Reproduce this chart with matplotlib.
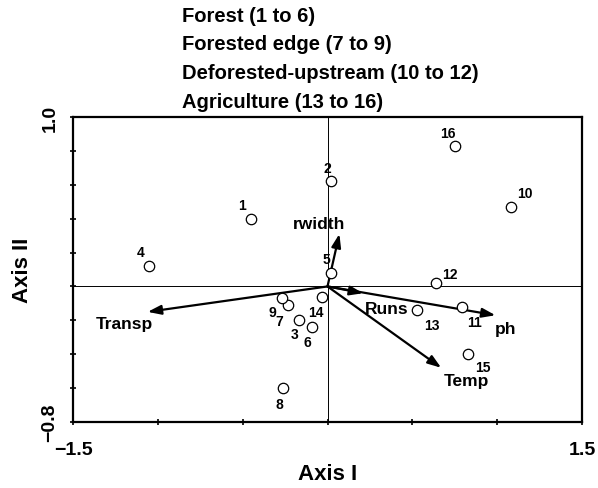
import numpy as np
import matplotlib
matplotlib.use("Agg")
import matplotlib.pyplot as plt

# site scores (Axis I, Axis II)
site_ids = ["1", "2", "3", "4", "5", "6", "7", "8", "9", "10", "11", "12", "13", "14", "15", "16"]
site_x = [-0.45, 0.02, -0.17, -1.05, 0.02, -0.09, -0.23, -0.26, -0.27, 1.08, 0.79, 0.64, 0.53, -0.03, 0.83, 0.75]
site_y = [0.40, 0.62, -0.20, 0.12, 0.08, -0.24, -0.11, -0.60, -0.07, 0.47, -0.12, 0.02, -0.14, -0.06, -0.40, 0.83]

# environmental variable vectors
env_names = ["Transp", "rwidth", "Runs", "ph", "Temp"]
env_x = [-1.06, 0.07, 0.21, 0.99, 0.67]
env_y = [-0.15, 0.31, -0.04, -0.17, -0.48]

group_labels = ["Forest (1 to 6)", "Forested edge (7 to 9)",
                "Deforested-upstream (10 to 12)", "Agriculture (13 to 16)"]

# label offsets in pixels for each site number
label_off = {
    "1": (-9, 14), "2": (-4, 13), "3": (-4, -14), "4": (-9, 14), "5": (-4, 14),
    "6": (-5, -15), "7": (-9, -16), "8": (-4, -16), "9": (-9, -14), "10": (14, 14),
    "11": (13, -15), "12": (14, 9), "13": (14, -15), "14": (-7, -15), "15": (15, -13),
    "16": (-7, 13),
}
# arrow label positions (data coords)
env_lab_x = [-1.2, -0.05, 0.35, 1.05, 0.82]
env_lab_y = [-0.22, 0.37, -0.13, -0.25, -0.555]

plt.rcParams["font.family"] = ["Liberation Sans", "DejaVu Sans"]
plt.rcParams["font.weight"] = "bold"

fig = plt.figure(figsize=(5.98, 4.89), dpi=100)
ax = fig.add_axes([73 / 598, 66 / 489, 509 / 598, 305 / 489])

ax.axhline(0, color="black", lw=0.7)
ax.axvline(0, color="black", lw=0.7)

for name, ex, ey in zip(env_names, env_x, env_y):
    ax.annotate("", xy=(ex, ey), xytext=(0, 0),
                arrowprops=dict(arrowstyle="-|>,head_length=0.8,head_width=0.28",
                                color="black", lw=1.6, shrinkA=0, shrinkB=0))
for name, lx, ly in zip(env_names, env_lab_x, env_lab_y):
    ax.text(lx, ly, name, fontsize=12.5, fontweight="bold", ha="center", va="center")

ax.plot(site_x, site_y, "o", mfc="white", mec="black", ms=7.5, mew=0.9, zorder=5)
for sid, sx, sy in zip(site_ids, site_x, site_y):
    dx, dy = label_off[sid]
    ax.annotate(sid, (sx, sy), xytext=(dx * 0.72, dy * 0.72), textcoords="offset points",
                fontsize=10, fontweight="bold", ha="center", va="center")

ax.set_xlim(-1.5, 1.5)
ax.set_ylim(-0.8, 1.0)
ax.set_xticks(np.arange(-1.5, 1.51, 0.5))
ax.set_yticks(np.arange(-0.8, 1.01, 0.2))
ax.set_xticklabels(["\u22121.5", "", "", "", "", "", "1.5"])
ax.set_yticklabels(["\u22120.8"] + [""] * 8 + ["1.0"], rotation=90, va="center")
ax.tick_params(direction="inout", length=5, width=1.2, labelsize=14)
ax.tick_params(axis="x", pad=11)
ax.tick_params(axis="y", pad=8)
for lab in ax.get_xticklabels() + ax.get_yticklabels():
    lab.set_fontweight("bold")
for s in ax.spines.values():
    s.set_linewidth(1.6)

ax.set_xlabel("Axis I", fontsize=16, fontweight="bold", labelpad=4)
ax.set_ylabel("Axis II", fontsize=16, fontweight="bold", labelpad=6)

for i, g in enumerate(group_labels):
    fig.text(182 / 598, 1 - (16 + i * 28.7) / 489, g, fontsize=14.5, fontweight="bold",
             ha="left", va="center")

fig.savefig("out.png", dpi=100)
